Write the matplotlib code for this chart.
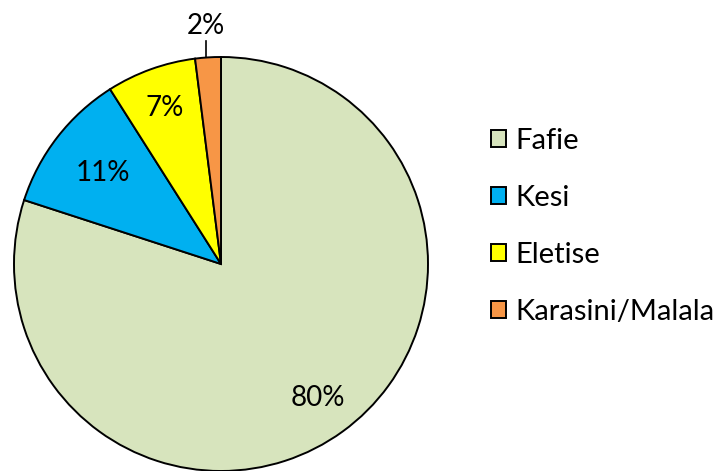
import matplotlib
matplotlib.use("Agg")
import matplotlib.pyplot as plt
import numpy as np

labels = ["Fafie", "Kesi", "Eletise", "Karasini/Malala"]
values = [80, 11, 7, 2]
colors = ["#D7E4BD", "#00B0F0", "#FFFF00", "#F79646"]

plt.rcParams["font.family"] = ["Lato", "DejaVu Sans"]

W, H = 723, 471
fig = plt.figure(figsize=(W / 100, H / 100), dpi=100)
cx, cy, r = 221, 264, 207
ax = fig.add_axes([(cx - r) / W, (H - cy - r) / H, 2 * r / W, 2 * r / H])

wedges, _ = ax.pie(
    values, colors=colors, startangle=90, counterclock=False,
    wedgeprops=dict(edgecolor="black", linewidth=1.4),
)
ax.set_xlim(-1, 1)
ax.set_ylim(-1, 1)
ax.set_aspect("equal")

# label distances from centre (relative to radius)
dists = [0.80, 0.72, 0.80, 1.15]
for w, v, d in zip(wedges, values, dists):
    ang = np.deg2rad((w.theta1 + w.theta2) / 2)
    x, y = d * np.cos(ang), d * np.sin(ang)
    ax.text(x, y, f"{v}%", ha="center", va="center", fontsize=20, clip_on=False)
    if d > 1:
        ax.plot([x, x], [1.0, 1.075], color="black", lw=1.2, clip_on=False)

fig.legend(
    wedges, labels, loc="upper left", bbox_to_anchor=(465 / W, 1 - 102 / H),
    frameon=False, fontsize=21, handlelength=0.52, handleheight=0.52,
    handletextpad=0.32, labelspacing=1.06,
)

fig.savefig("out.png", dpi=100)
